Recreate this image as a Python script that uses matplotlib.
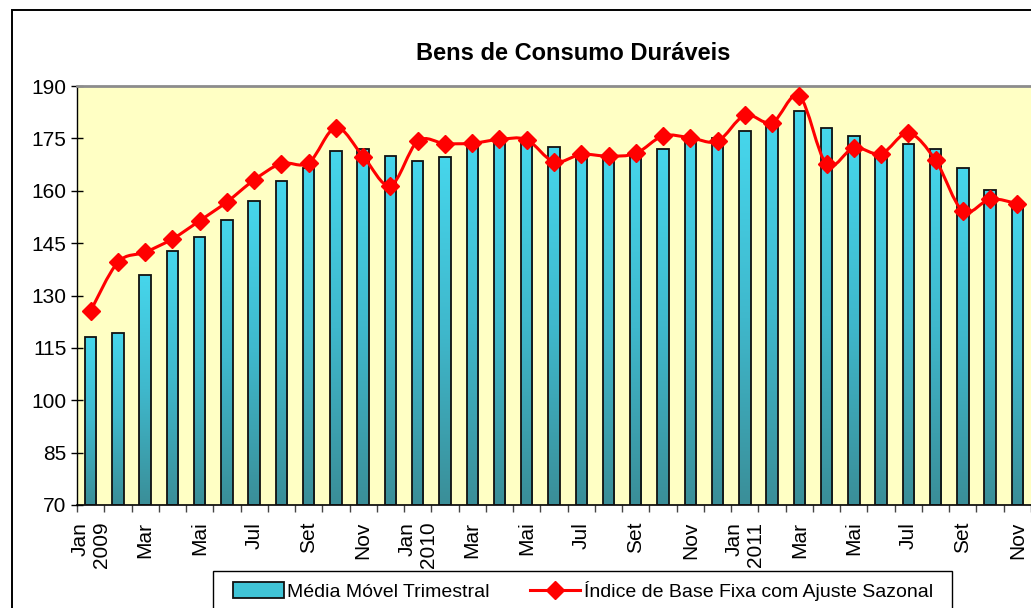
import numpy as np
import matplotlib
matplotlib.use("Agg")
import matplotlib.pyplot as plt
from matplotlib.patches import Rectangle, Patch
from matplotlib.path import Path
from matplotlib.patches import PathPatch
from matplotlib.lines import Line2D
from matplotlib.colors import LinearSegmentedColormap

# --- Data (Jan 2009 .. Nov 2011) ---
MONTHS = ['Jan\n2009', '', 'Mar', '', 'Mai', '', 'Jul', '', 'Set', '', 'Nov', '',
          'Jan\n2010', '', 'Mar', '', 'Mai', '', 'Jul', '', 'Set', '', 'Nov', '',
          'Jan\n2011', '', 'Mar', '', 'Mai', '', 'Jul', '', 'Set', '', 'Nov']

media_movel = [118.0, 119.3, 135.9, 142.7, 146.7, 151.5, 157.2, 162.7, 166.4, 171.3,
               172.1, 170.0, 168.6, 169.7, 173.5, 174.4, 174.3, 172.6, 171.1, 169.8,
               171.1, 172.1, 173.9, 175.2, 177.1, 178.8, 182.8, 178.0, 175.7, 170.4,
               173.3, 171.9, 166.4, 160.2, 155.8]

indice_ajuste = [125.6, 139.5, 142.4, 146.2, 151.4, 156.8, 163.1, 167.8, 168.0, 178.1,
                 169.8, 161.5, 174.2, 173.5, 173.6, 174.7, 174.6, 168.3, 170.4, 169.9,
                 170.7, 175.7, 175.2, 174.2, 181.6, 179.5, 187.1, 167.6, 172.3, 170.6,
                 176.5, 168.7, 154.2, 157.6, 156.3]

Y_TICKS = [70, 85, 100, 115, 130, 145, 160, 175, 190]

TITLE = 'Bens de Consumo Duráveis'
LABEL_BARS = 'Média Móvel Trimestral'
LABEL_LINE = 'Índice de Base Fixa com Ajuste Sazonal'

# --- Style ---
PLOT_BG = '#FFFFC4'
BAR_TOP = '#46D6EC'
BAR_BOTTOM = '#3A8E98'
LINE_COLOR = '#FF0000'
BAR_WIDTH = 0.42

plt.rcParams['font.family'] = ['Liberation Sans', 'DejaVu Sans']

W, H = 1031, 608
fig = plt.figure(figsize=(W / 100, H / 100), dpi=100)
fig.patch.set_facecolor('white')

ax = fig.add_axes([77 / W, (H - 505) / H, (W - 77) / W, 419 / H])
ax.set_facecolor(PLOT_BG)

x = np.arange(len(media_movel))
ax.set_xlim(-0.5, len(media_movel) - 0.5)
ax.set_ylim(70, 190)

# bars with a vertical gradient
cmap = LinearSegmentedColormap.from_list('bar', [BAR_BOTTOM, '#3FB8CC', BAR_TOP])
grad = np.linspace(0, 1, 256).reshape(-1, 1)
bars = ax.bar(x, np.array(media_movel) - 70, bottom=70, width=BAR_WIDTH,
              facecolor='none', edgecolor='#111111', linewidth=1.3, zorder=3)
for b, v in zip(bars, media_movel):
    x0 = b.get_x()
    im = ax.imshow(grad, cmap=cmap, aspect='auto', origin='lower',
                   extent=[x0, x0 + b.get_width(), 70, v], zorder=2)
    im.set_clip_path(b)

# smoothed line (Catmull-Rom through the points, like Excel's smoothing)
y = np.array(indice_ajuste)
verts = [(x[0], y[0])]
codes = [Path.MOVETO]
n = len(y)
for i in range(n - 1):
    p0 = np.array([x[max(i - 1, 0)], y[max(i - 1, 0)]])
    p1 = np.array([x[i], y[i]])
    p2 = np.array([x[i + 1], y[i + 1]])
    p3 = np.array([x[min(i + 2, n - 1)], y[min(i + 2, n - 1)]])
    c1 = p1 + (p2 - p0) / 6
    c2 = p2 - (p3 - p1) / 6
    verts += [tuple(c1), tuple(c2), tuple(p2)]
    codes += [Path.CURVE4] * 3
ax.add_patch(PathPatch(Path(verts, codes), facecolor='none', edgecolor=LINE_COLOR,
                       linewidth=2.2, zorder=4, clip_on=False))
ax.plot(x, y, linestyle='none', marker='D', markersize=9.5, color=LINE_COLOR,
        markeredgecolor=LINE_COLOR, zorder=5, clip_on=False)

# axes styling
ax.set_yticks(Y_TICKS)
ax.tick_params(axis='y', direction='inout', length=9, width=1, labelsize=15,
               colors='black', pad=3)
ax.set_xticks(x[::2])
ax.set_xticklabels(MONTHS[::2], rotation=90, fontsize=15, va='top', ha='center',
                   multialignment='right')
ax.tick_params(axis='x', which='major', length=0, pad=12)
ax.set_xticks(np.arange(-0.5, len(x), 1), minor=True)
ax.tick_params(axis='x', which='minor', direction='out', length=5, width=1,
               color='#444444')

ax.spines['top'].set_color('#8C8C8C')
ax.spines['top'].set_linewidth(2)
ax.spines['right'].set_visible(False)
ax.spines['left'].set_linewidth(1)
ax.spines['bottom'].set_linewidth(1.2)

# title
fig.text(573 / W, 1 - 53 / H, TITLE, ha='center', va='center', fontsize=17,
         fontweight='bold')

# outer chart border (runs off the right and bottom edge)
fig.add_artist(Rectangle((12 / W, -0.2), 1.2, (H - 10) / H + 0.2,
                         transform=fig.transFigure, fill=False,
                         edgecolor='black', linewidth=1.4))

# legend: own frame, entries placed inside it
fig.add_artist(Rectangle((213 / W, -0.1), (952 - 213) / W, (H - 571) / H + 0.1,
                         transform=fig.transFigure, facecolor='white',
                         edgecolor='black', linewidth=1, zorder=4))
bar_handle = Patch(facecolor='#40C4D6', edgecolor='#111111', linewidth=1.3)
line_handle = Line2D([], [], color=LINE_COLOR, linewidth=2.2, marker='D',
                     markersize=9.5)
leg = fig.legend([bar_handle, line_handle], [LABEL_BARS, LABEL_LINE],
                 loc='center left', bbox_to_anchor=(233 / W, 1 - 591 / H),
                 ncol=2, frameon=False, fontsize=14,
                 handlelength=2.6, handleheight=0.9, handletextpad=0.2,
                 columnspacing=2.05, borderpad=0, borderaxespad=0)
leg.set_zorder(5)

fig.savefig('out.png', dpi=100, facecolor=fig.get_facecolor())
